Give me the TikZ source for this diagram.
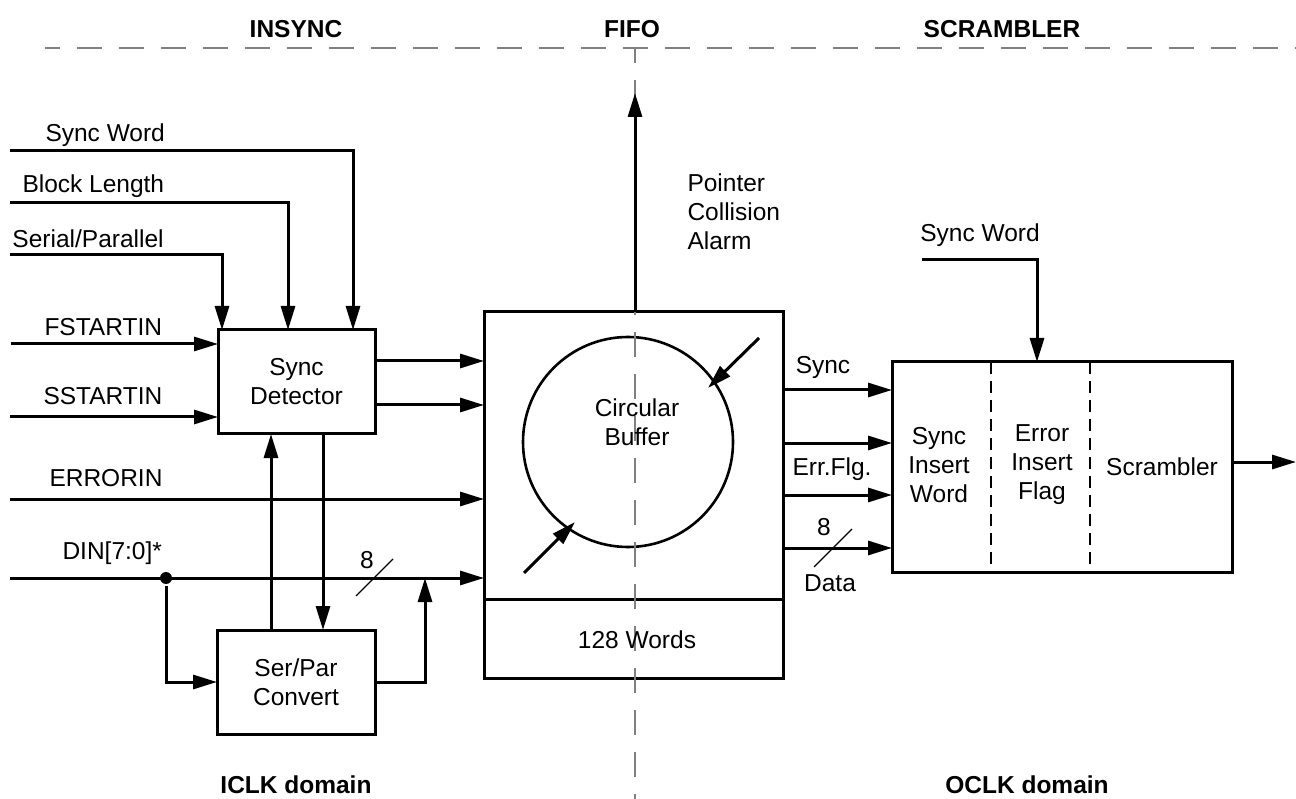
\documentclass[tikz,border=0pt]{standalone}
\usepackage{fontspec}
\setmainfont{Liberation Sans}
\usetikzlibrary{arrows.meta,calc}
\begin{document}
\begin{tikzpicture}[x=1pt,y=-1pt,line width=3pt,
  arr/.style={-{Triangle[length=24pt,width=14pt]}},
  box/.style={draw,line width=3pt,rectangle,inner sep=0pt,outer sep=0pt,align=center,font=\fontsize{24.5}{29}\selectfont},
  lbl/.style={inner sep=0pt,align=center,font=\fontsize{24.5}{29}\selectfont},
  blbl/.style={inner sep=0pt,align=center,font=\fontsize{24.5}{29}\selectfont\bfseries},
  sep/.style={draw=gray,line width=2.6pt,dash pattern=on 25pt off 17pt,dash phase=10pt},
  vsep/.style={draw=gray,line width=2pt,dash pattern=on 25pt off 17pt,dash phase=10pt},
  divider/.style={draw=black,line width=2pt,dash pattern=on 12pt off 7pt},
  bus/.style={line width=1.2pt}]
\useasboundingbox (0,0) rectangle (1296,799);

% boxes
\node[box,minimum width=157pt,minimum height=104pt] (sd) at (296.5,382) {Sync\\Detector};
\node[box,minimum width=158pt,minimum height=104pt] (sp) at (296,682) {Ser/Par\\Convert};
\node[box,minimum width=299pt,minimum height=287pt] (fifo) at (633.5,455.5) {};
\node[box,minimum width=299pt,minimum height=79pt] (fbot) at (633.5,638.5) {};
\node[draw,circle,line width=2.6pt,minimum size=210pt,inner sep=0pt] (circ) at (628,442) {};
\node[box,minimum width=340pt,minimum height=210pt] (scr) at (1062,467) {};

% scrambler dividers
\draw[divider] (991,362) -- (991,572);
\draw[divider] (1090,362) -- (1090,572);

% left inputs
\coordinate (swin) at (10,151);
\coordinate (blin) at (10,203);
\coordinate (spin) at (10,255);
\coordinate (fsin) at (11,344);
\coordinate (ssin) at (10,417);
\coordinate (erin) at (10,499);
\coordinate (dinin) at (10,578);
\draw[arr] (swin) -| (sd.north -| 353,0);
\draw[arr] (blin) -| (sd.north -| 288,0);
\draw[arr] (spin) -| (sd.north -| 222,0);
\draw[arr] (fsin) -- (fsin -| sd.west);
\draw[arr] (ssin) -- (ssin -| sd.west);
\draw[arr] (sd.east |- 0,361) -- (fifo.west |- 0,361);
\draw[arr] (sd.east |- 0,405) -- (fifo.west |- 0,405);
\draw[arr] (erin) -- (erin -| fifo.west);
\draw[arr] (dinin) -- (dinin -| fifo.west);
\node[circle,fill,inner sep=0pt,minimum size=12pt] (dot) at (166,578) {};
\draw[arr] (dot) |- (sp.west);
\coordinate (join) at (425,578);
\draw[arr] (sp.east) -| (join);
\draw[arr] (sp.north -| 271,0) -- (sd.south -| 271,0);
\draw[arr] (sd.south -| 323,0) -- (sp.north -| 323,0);
\draw[bus] (356,596) -- (393,559);

% circle arrows
\coordinate (ca1) at (759,338);
\coordinate (ca2) at (524,573);
\draw[arr] (ca1) -- (708,388);
\draw[arr] (ca2) -- (575,522);

% fifo outputs
\foreach \yy in {390,443,495,548}{
  \draw[arr] (fifo.east |- 0,\yy) -- (scr.west |- 0,\yy);
}
\draw[bus] (814,567) -- (852,529);

% scrambler inputs/outputs
\coordinate (swin2) at (922,260);
\draw[arr] (swin2) -| (scr.north -| 1037,0);
\coordinate (sout) at (1296,462);
\draw[arr] (sout -| scr.east) -- (sout);

% separators
\draw[sep] (45,48) -- (1296,48);
\draw[vsep] (635,48) -- (635,799);

% pointer collision alarm
\coordinate (pca) at (635,93);
\draw[arr] (fifo.north -| pca) -- (pca);

% labels
\node[lbl,anchor=base west] (l1) at (44,142) {Sync Word};
\node[lbl,anchor=base west] (l2) at (21,193) {Block Length};
\node[lbl,anchor=base west] (l3) at (11,248) {Serial/Parallel};
\node[lbl,anchor=base west] (l4) at (43,336) {FSTARTIN};
\node[lbl,anchor=base west] (l5) at (42,405) {SSTARTIN};
\node[lbl,anchor=base west] (l6) at (48,486) {ERRORIN};
\node[lbl,anchor=base west] (l7) at (61,559) {DIN[7:0]*};
\node[lbl] (l8) at (367,560) {8};
\node[lbl,align=left,anchor=west] (l9) at (686,212) {Pointer\\Collision\\Alarm};
\node[lbl] (l10) at (637,422) {Circular\\Buffer};
\node[lbl] (l11) at (637,640) {128 Words};
\node[lbl] (l12) at (823,367) {Sync};
\node[lbl] (l13) at (832,469) {Err.Flg.};
\node[lbl] (l14) at (824,527) {8};
\node[lbl] (l15) at (830,583) {Data};
\node[lbl] (l16) at (939,465) {Sync\\Insert\\Word};
\node[lbl] (l17) at (1042,465) {Error\\Insert\\Flag};
\node[lbl] (l18) at (1162,467) {Scrambler};
\node[lbl] (l19) at (980,235) {Sync Word};
\node[blbl,anchor=base] (t1) at (296,38) {INSYNC};
\node[blbl,anchor=base] (t2) at (632,38) {FIFO};
\node[blbl,anchor=base] (t3) at (1002,38) {SCRAMBLER};
\node[blbl,anchor=base] (t4) at (296,793) {ICLK domain};
\node[blbl,anchor=base] (t5) at (1027,793) {OCLK domain};
\end{tikzpicture}
\end{document}
